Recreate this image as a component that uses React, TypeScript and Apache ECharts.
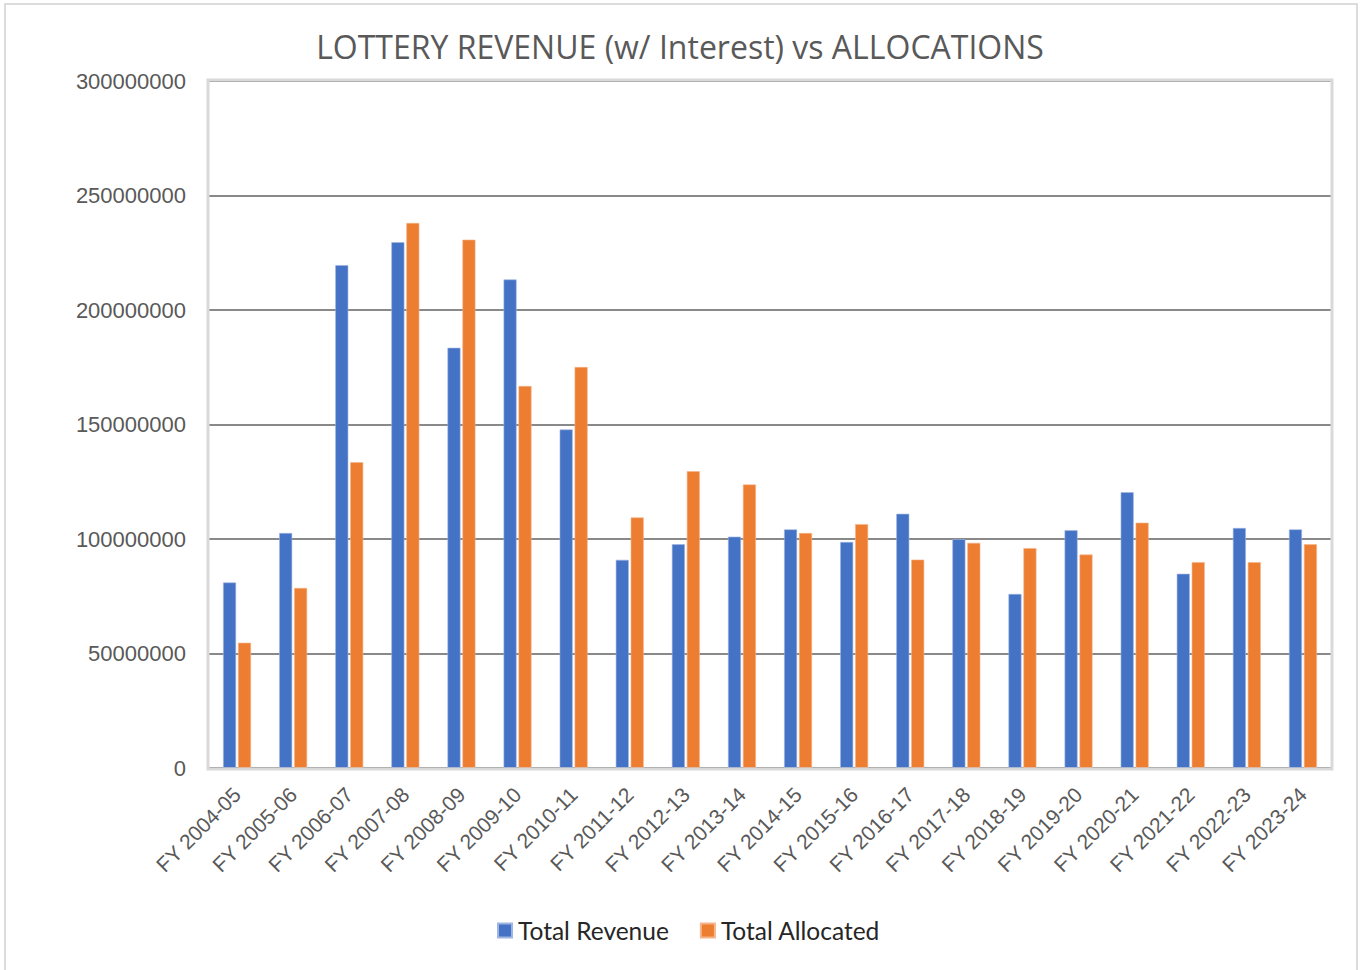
import React, { useEffect, useRef } from "react";
import * as echarts from "echarts";

const categories = [
  "FY 2004-05", "FY 2005-06", "FY 2006-07", "FY 2007-08", "FY 2008-09",
  "FY 2009-10", "FY 2010-11", "FY 2011-12", "FY 2012-13", "FY 2013-14",
  "FY 2014-15", "FY 2015-16", "FY 2016-17", "FY 2017-18", "FY 2018-19",
  "FY 2019-20", "FY 2020-21", "FY 2021-22", "FY 2022-23", "FY 2023-24",
];

const totalRevenue = [
  81000000, 102600000, 219600000, 229600000, 183500000,
  213300000, 147800000, 90900000, 97700000, 101000000,
  104200000, 98700000, 111000000, 99900000, 76000000,
  103800000, 120400000, 84800000, 104800000, 104200000,
];

const totalAllocated = [
  54700000, 78600000, 133500000, 238000000, 230700000,
  166800000, 175100000, 109400000, 129600000, 123800000,
  102600000, 106500000, 91000000, 98300000, 96000000,
  93200000, 107100000, 89900000, 89900000, 97700000,
];

const seriesNames = ["Total Revenue", "Total Allocated"];
const titleText = "LOTTERY REVENUE (w/ Interest) vs ALLOCATIONS";

const GRID = { left: 209, right: 29, top: 81, bottom: 202 };
const W = 1360;
const H = 970;

export default function App() {
  const ref = useRef<HTMLDivElement>(null);
  useEffect(() => {
    document.body.style.margin = "0";
    if (!ref.current) return;
    const chart = echarts.init(ref.current, undefined, { renderer: "svg" });
    chart.setOption({
      animation: false,
      backgroundColor: "#ffffff",
      title: {
        text: titleText,
        left: "center",
        top: 25,
        textStyle: {
          fontFamily: "Open Sans",
          fontSize: 32,
          fontWeight: "normal",
          color: "#595959",
        },
      },
      legend: {
        bottom: 22,
        left: 492,
        itemWidth: 14,
        itemHeight: 14,
        itemGap: 31,
        icon: "rect",
        textStyle: {
          fontFamily: "Lato",
          fontSize: 24.5,
          color: "#262626",
          padding: [0, 0, 0, 1],
        },
        data: seriesNames,
      },
      grid: {
        left: GRID.left,
        right: GRID.right,
        top: GRID.top,
        bottom: GRID.bottom,
        containLabel: false,
      },
      xAxis: {
        type: "category",
        data: categories,
        axisLine: { show: false },
        axisTick: { show: false },
        axisLabel: {
          rotate: 45,
          margin: 23,
          interval: 0,
          fontFamily: "Liberation Sans",
          fontSize: 21,
          color: "#595959",
        },
      },
      yAxis: {
        type: "value",
        min: 0,
        max: 300000000,
        interval: 50000000,
        axisLine: { show: false },
        axisTick: { show: false },
        axisLabel: {
          margin: 23,
          fontFamily: "Liberation Sans",
          fontSize: 22,
          color: "#595959",
          formatter: (v: number) => String(v),
        },
        splitLine: { show: true, lineStyle: { color: "#898989", width: 2 } },
      },
      series: [
        {
          name: seriesNames[0],
          type: "bar",
          data: totalRevenue,
          barWidth: 13,
          barGap: "15%",
          itemStyle: { color: "#4472C4", borderColor: "#9fb6e3", borderWidth: 0.6 },
        },
        {
          name: seriesNames[1],
          type: "bar",
          data: totalAllocated,
          barWidth: 13,
          barGap: "15%",
          itemStyle: { color: "#ED7D31", borderColor: "#f5b48a", borderWidth: 0.6 },
        },
      ],
      graphic: [
        {
          type: "rect",
          z: 100,
          silent: true,
          shape: {
            x: GRID.left - 1,
            y: GRID.top - 1,
            width: W - GRID.left - GRID.right + 2,
            height: H - GRID.top - GRID.bottom + 2,
          },
          style: { fill: "none", stroke: "#d9d9d9", lineWidth: 3 },
        },
        {
          type: "rect",
          z: 100,
          silent: true,
          shape: { x: 5, y: 4, width: 1352, height: 990 },
          style: { fill: "none", stroke: "#dcdcdc", lineWidth: 2 },
        },
      ],
    });
    return () => chart.dispose();
  }, []);
  return (
    <div
      ref={ref}
      style={{ position: "fixed", left: 0, top: 0, width: W, height: H }}
    />
  );
}
